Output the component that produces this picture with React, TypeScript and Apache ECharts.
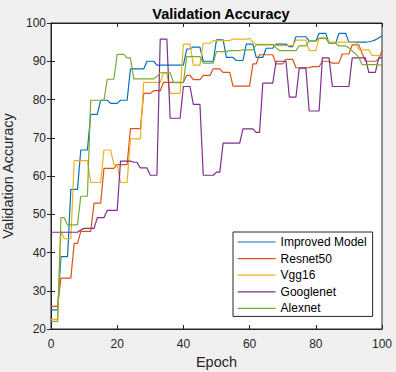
import { useEffect, useRef } from "react";
import * as echarts from "echarts";

const epochs = Array.from({ length: 101 }, (_, i) => i);

const seriesNames = ["Improved Model", "Resnet50", "Vgg16", "Googlenet", "Alexnet"];
const seriesColors = ["#0072BD", "#D95319", "#EDB120", "#7E2F8E", "#77AC30"];

const improvedModel = [
  25, 25, 25, 38.9, 38.9, 38.9, 56.5, 56.5, 56.5, 66.8,
  66.8, 66.8, 76.1, 76.1, 76.1, 79.8, 79.8, 79.8, 79, 79,
  79, 79.8, 79.8, 79.8, 88, 88, 88, 88, 88, 90,
  90, 90, 89, 89, 89, 89, 89, 89, 89, 89,
  89, 93.2, 93.2, 93.7, 93.7, 93.7, 90, 90, 90, 90,
  95.6, 95.6, 95.6, 91, 91, 91, 90.2, 90.2, 90.2, 94.5,
  94.5, 94.5, 91, 91, 91, 93.4, 93.4, 93.4, 94.5, 94.5,
  94.5, 94.5, 93.8, 93.8, 96.4, 96.4, 96.4, 96.4, 95.3, 95.3,
  95.3, 97.3, 97.3, 97.3, 94.7, 94.7, 94.7, 97.3, 97.3, 97.3,
  95, 95, 95, 95, 95, 95, 95.1, 95.3, 95.6, 96.1,
  96.6,
];

const resnet50 = [
  25.9, 25.9, 25.9, 33.3, 33.3, 33.3, 33.3, 42.4, 42.4, 45.5,
  45.5, 45.5, 45.5, 52.9, 52.9, 52.9, 62, 62, 62, 62,
  63, 63, 63, 63, 72.4, 72.4, 72.4, 72.4, 81.6, 81.6,
  81.6, 82.3, 82.3, 82.3, 84.5, 84.5, 84.5, 84.5, 84.5, 84.5,
  84.5, 86.3, 86.3, 85.2, 85.2, 85.2, 86.3, 86.3, 86.3, 88,
  88, 88, 87.1, 87.1, 87.1, 83.5, 83.5, 83.5, 83.5, 83.5,
  83.5, 89.3, 89.3, 91.7, 91.7, 91.7, 91.7, 91.7, 89.3, 89.3,
  89.3, 90.5, 90.5, 90.5, 88.3, 88.3, 88.3, 88.3, 88.3, 88.6,
  88.6, 88.6, 90, 90, 90, 89.5, 89.5, 89.5, 91.9, 91.9,
  91.9, 94.3, 94.3, 94.3, 92, 90, 90, 90, 90, 90.5,
  92.8,
];

const vgg16 = [
  22.5, 22.5, 22.5, 45.5, 43.6, 43.6, 43.6, 64, 64, 64,
  64, 64, 58.3, 58.3, 58.3, 58.3, 66.8, 66.8, 66.8, 63,
  63, 58.3, 58.3, 58.3, 69.7, 69.7, 69.7, 69.7, 84.5, 84.5,
  84.5, 84.5, 84.5, 84.5, 86.9, 86.9, 81.6, 81.6, 81.6, 81.6,
  94.5, 94.5, 94.5, 89, 89, 89, 94.7, 94.7, 94.7, 95.4,
  95.4, 95.4, 95.4, 95.4, 95.4, 95.8, 95.8, 95.8, 95.8, 95.8,
  96, 95, 94.4, 94.4, 94.4, 94.4, 94.4, 94.4, 94.1, 94.1,
  94.1, 94.1, 94.1, 94.1, 95.5, 95.5, 95.5, 95.5, 92.8, 92.8,
  92.8, 96.1, 96.1, 96.1, 95, 95, 95, 95, 95, 95,
  95, 95, 95, 93, 93, 93, 93, 91.5, 91.5, 91.5,
  91,
];

const googlenet = [
  45.3, 45.3, 45.3, 45.3, 45.3, 45.3, 45.3, 45.3, 45.3, 45.9,
  46.3, 46.3, 46.3, 46.3, 49.1, 49.1, 49.1, 51, 51, 51,
  51, 63.9, 63.9, 63.9, 63.9, 63.6, 63.6, 62.1, 62.1, 62.1,
  60.2, 60.2, 60.2, 95.8, 95.8, 95.8, 75.1, 75.1, 75.1, 75.1,
  83.4, 83.4, 83.4, 78.7, 78.7, 78.7, 60.2, 60.2, 60.2, 60.2,
  61, 61, 68.6, 68.6, 68.6, 68.6, 68.6, 68.6, 72.3, 72.3,
  72.3, 72.3, 71.4, 71.4, 84.3, 84.3, 84.3, 84.3, 90, 90,
  90, 90, 80.6, 80.6, 80.6, 88.2, 88.2, 88.2, 77, 77,
  77, 77, 90.9, 90.9, 90.9, 83.4, 83.4, 83.4, 83.4, 83.4,
  83.4, 90.9, 90.9, 90.9, 90.9, 90.9, 87.1, 87.1, 87.1, 90.9,
  90.9,
];

const alexnet = [
  22, 22, 22, 49.1, 49.1, 47.2, 47.2, 47.2, 47.2, 54.7,
  54.7, 54.7, 79.8, 79.8, 79.8, 79.8, 79.8, 85.3, 85.3, 85.3,
  91.8, 91.8, 91.8, 90.9, 90.9, 85.4, 85.4, 85.4, 85.4, 85.4,
  85.4, 85.4, 86, 87, 87, 87, 87, 84.4, 84.4, 84.4,
  84.4, 91.2, 91.2, 91.2, 91.2, 91.2, 89.5, 89.5, 89.5, 89.5,
  92.5, 92.5, 92.5, 92.5, 92.8, 92.8, 92.8, 92.8, 93, 93,
  93, 93, 94.3, 94.3, 94.3, 94.3, 94.3, 94.3, 93.5, 92.8,
  92.8, 92.8, 92.8, 92.8, 92.8, 94, 94, 94, 95.3, 95.3,
  95.3, 96, 96, 96, 94.7, 94.7, 94.7, 94, 94, 94,
  93.5, 92.7, 92, 91, 89.1, 89.1, 89.1, 89.1, 89.1, 89,
  89.1,
];

const seriesValues = [improvedModel, resnet50, vgg16, googlenet, alexnet];

const FONT = "'Liberation Sans', Arial, Helvetica, sans-serif";
const AXIS_COLOR = "#262626";

export default function App() {
  const ref = useRef<HTMLDivElement>(null);

  useEffect(() => {
    const chart = echarts.init(ref.current!, null, { renderer: "svg" });

    const tickCommon = {
      show: true,
      inside: true,
      length: 4,
      lineStyle: { color: AXIS_COLOR, width: 1 },
    };

    chart.setOption({
      animation: false,
      backgroundColor: "#f0f0f0",
      textStyle: { fontFamily: FONT },
      title: {
        text: "Validation Accuracy",
        left: 216,
        top: 1,
        textAlign: "center",
        textStyle: { fontFamily: FONT, fontSize: 14.5, fontWeight: "bold", color: "#000" },
      },
      grid: {
        left: 51,
        right: 14,
        top: 23,
        bottom: 43,
        show: true,
        outerBoundsMode: "none",
        containLabel: false,
        backgroundColor: "#ffffff",
        borderColor: AXIS_COLOR,
        borderWidth: 1,
      },
      legend: {
        orient: "vertical",
        left: 233,
        top: 232,
        data: seriesNames,
        itemWidth: 38,
        itemHeight: 12,
        itemGap: 4.6,
        padding: [4, 6, 2, 4],
        backgroundColor: "#ffffff",
        borderColor: AXIS_COLOR,
        borderWidth: 1,
        borderRadius: 0,
        itemStyle: { opacity: 0 },
        lineStyle: { width: 1.2 },
        textStyle: { fontFamily: FONT, fontSize: 12, color: "#000" },
      },
      xAxis: [
        {
          type: "value",
          min: 0,
          max: 100,
          interval: 20,
          position: "bottom",
          name: "Epoch",
          nameLocation: "middle",
          nameGap: 25,
          nameTextStyle: { fontFamily: FONT, fontSize: 14.5, color: AXIS_COLOR },
          axisLine: { show: true, lineStyle: { color: AXIS_COLOR, width: 1 } },
          axisTick: tickCommon,
          axisLabel: { margin: 9, fontFamily: FONT, fontSize: 12, color: AXIS_COLOR },
          splitLine: { show: false },
        },
        {
          type: "value",
          min: 0,
          max: 100,
          interval: 20,
          position: "top",
          axisLine: { show: true, lineStyle: { color: AXIS_COLOR, width: 1 } },
          axisTick: tickCommon,
          axisLabel: { show: false },
          splitLine: { show: false },
        },
      ],
      yAxis: [
        {
          type: "value",
          min: 20,
          max: 100,
          interval: 10,
          position: "left",
          name: "Validation Accuracy",
          nameLocation: "middle",
          nameGap: 33,
          nameTextStyle: { fontFamily: FONT, fontSize: 14.5, color: AXIS_COLOR },
          axisLine: { show: true, lineStyle: { color: AXIS_COLOR, width: 1 } },
          axisTick: tickCommon,
          axisLabel: { margin: 5, fontFamily: FONT, fontSize: 12, color: AXIS_COLOR },
          splitLine: { show: false },
        },
        {
          type: "value",
          min: 20,
          max: 100,
          interval: 10,
          position: "right",
          axisLine: { show: true, lineStyle: { color: AXIS_COLOR, width: 1 } },
          axisTick: tickCommon,
          axisLabel: { show: false },
          splitLine: { show: false },
        },
      ],
      series: seriesNames.map((name, si) => ({
        name,
        type: "line",
        xAxisIndex: 0,
        yAxisIndex: 0,
        symbol: "none",
        showSymbol: false,
        color: seriesColors[si],
        lineStyle: { color: seriesColors[si], width: 1.2 },
        data: epochs.map((e, i) => [e, seriesValues[si][i]]),
      })),
    });

    return () => chart.dispose();
  }, []);

  return (
    <div
      ref={ref}
      style={{
        position: "fixed",
        left: 0,
        top: 0,
        width: 396,
        height: 372,
        background: "#f0f0f0",
      }}
    />
  );
}
